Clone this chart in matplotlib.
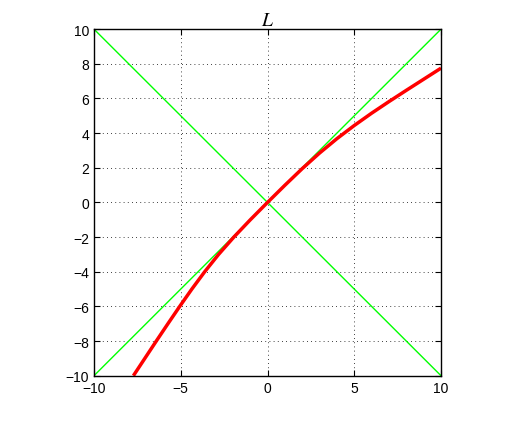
import matplotlib
matplotlib.use('Agg')
from matplotlib import pyplot as plt

plt.rcParams['font.family'] = ['Liberation Sans', 'DejaVu Sans']
plt.rcParams['mathtext.fontset'] = 'stix'

# guide lines
diag_x = [-10, 10]
diag_up = [-10, 10]
diag_down = [10, -10]

# red curve
curve_x = [-7.73, -7.07, -6.41, -5.74, -5.06, -4.36, -3.62, -2.82, -1.94, -0.99, 0.0,
           1.0, 2.0, 3.0, 4.0, 5.0, 6.0, 7.0, 8.0, 9.0, 10.0]
curve_y = [-10.0, -9.0, -8.0, -7.0, -6.0, -5.0, -4.0, -3.0, -2.0, -1.0, 0.0,
           0.99, 1.95, 2.85, 3.68, 4.44, 5.15, 5.82, 6.47, 7.11, 7.75]

ticks = [-10, -8, -6, -4, -2, 0, 2, 4, 6, 8, 10]
xticks = [-10, -5, 0, 5, 10]

fig = plt.figure(figsize=(5.09, 4.31), dpi=100)
ax = fig.add_axes([0.1847, 0.126, 0.6817, 0.804])

ax.plot(diag_x, diag_up, color='#00ff00', lw=1)
ax.plot(diag_x, diag_down, color='#00ff00', lw=1)
ax.plot(curve_x, curve_y, color='#ff0000', lw=2.5, solid_capstyle='butt',
        solid_joinstyle='round')

ax.set_xlim(-10, 10)
ax.set_ylim(-10, 10)
ax.set_xticks(xticks)
ax.set_yticks(ticks)
ax.tick_params(direction='in', top=True, right=True, labelsize=10, length=4)
ax.grid(True, linestyle=(0, (1, 4)), color='black', lw=0.6)
for s in ax.spines.values():
    s.set_linewidth(1)

ax.set_title('$L$', fontsize=14, pad=3)

fig.savefig('out.png', dpi=100)
